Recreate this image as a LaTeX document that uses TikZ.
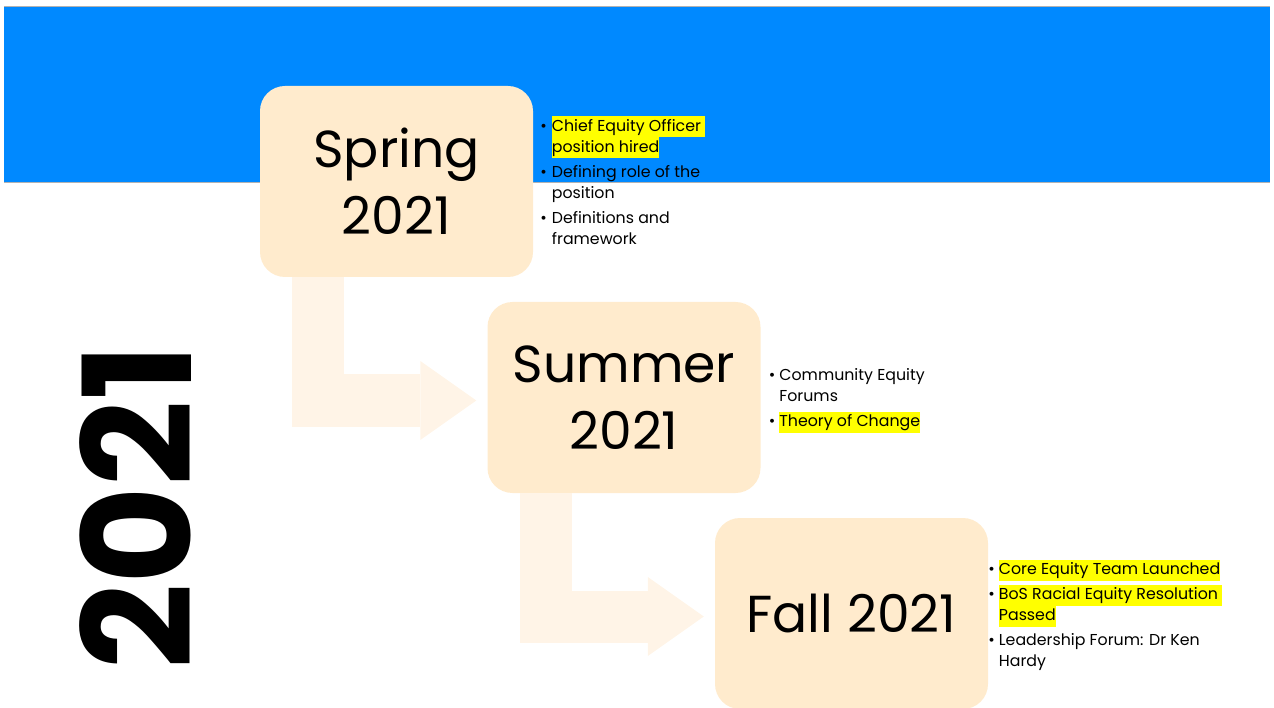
\documentclass[tikz,border=0pt]{standalone}
\usepackage{fontspec}
\setmainfont{Poppins}
\usetikzlibrary{positioning, arrows.meta}
\definecolor{band}{HTML}{0089FF}
\definecolor{season}{HTML}{FFEBCD}
\definecolor{flowfill}{HTML}{FFF4E7}
\definecolor{mark}{HTML}{FFFF00}
\newcommand{\hl}[1]{{\fboxsep=0pt\colorbox{mark}{\strut #1}}}

\begin{document}
\begin{tikzpicture}
    [
        x=1pt, y=-1pt, node distance=216pt and 227.5pt, on grid,
        season_box/.style={rectangle, rounded corners=25pt, fill=season, minimum width=273pt, minimum height=191pt, inner sep=0pt, align=center, font=\fontsize{52}{67}\selectfont},
        note_list/.style={anchor=west, inner sep=0pt, font=\fontsize{15.8}{21}\selectfont},
        flow/.style={line width=52pt, color=flowfill, -{Triangle[length=56pt, width=79pt, line width=0pt]}},
    ]
        \useasboundingbox (0,0) rectangle (1274,708);
        \fill[band] (4,7) rectangle (1270,183);
        \draw[gray!60, line width=1pt] (4,7) -- (1270,7) (4,183) -- (1270,183);
        \node[season_box] (spring) at (396.5,181.5) {Spring\\2021};
        \node[season_box] (summer) [below right = of spring] {Summer\\2021};
        \node[season_box] (fall) [below right = of summer] {Fall 2021};
        \draw[flow] ([xshift=-78.5pt]spring.south) |- ([xshift=-11pt, yshift=-3pt]summer.west);
        \draw[flow] ([xshift=-78.5pt]summer.south) |- ([xshift=-11pt, yshift=-3pt]fall.west);
        \node[note_list] (spring_notes) at ([xshift=7pt, yshift=-2pt]spring.east) {\begin{tabular}{@{}l@{\hspace{5pt}}l@{}}
            \textbullet & \hl{Chief Equity Officer } \\
                        & \hl{position hired} \\[4pt]
            \textbullet & Defining role of the \\
                        & position \\[4pt]
            \textbullet & Definitions and \\
                        & framework
        \end{tabular}};
        \node[note_list] (summer_notes) at ([xshift=8pt, yshift=-2pt]summer.east) {\begin{tabular}{@{}l@{\hspace{4pt}}l@{}}
            \textbullet & Community Equity \\
                        & Forums \\[4pt]
            \textbullet & \hl{Theory of Change}
        \end{tabular}};
        \node[note_list] (fall_notes) at ([xshift=0pt, yshift=-3pt]fall.east) {\begin{tabular}{@{}l@{\hspace{4pt}}l@{}}
            \textbullet & \hl{Core Equity Team Launched} \\[4pt]
            \textbullet & \hl{BoS Racial Equity Resolution } \\
                        & \hl{Passed} \\[4pt]
            \textbullet & Leadership Forum: Dr Ken \\
                        & Hardy
        \end{tabular}};
        \node[rotate=90, font=\fontsize{150}{150}\selectfont\bfseries] (year) at (136,507) {2021};
    \end{tikzpicture}
\end{document}
